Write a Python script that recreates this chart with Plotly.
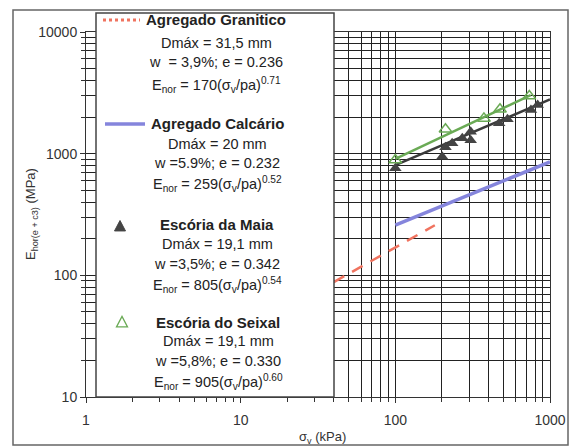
import plotly.graph_objects as go

# ---------------- data ----------------
gran_x = [40, 180]
gran_y = [88, 258]

calc_x = [100, 1000]
calc_y = [259, 857]

maia_fit_x = [100, 1000]
maia_fit_y = [805, 2791]
maia_x = [100, 201, 211, 233, 271, 307, 307, 469, 531, 753, 832]
maia_y = [759, 944, 1130, 1217, 1340, 1290, 1514, 1778, 1919, 2287, 2514]

seix_fit_x = [100, 750]
seix_fit_y = [905, 3032]
seix_x = [100, 211, 374, 475, 735]
seix_y = [887, 1585, 1950, 2317, 2977]

x_ticks = [1, 10, 100, 1000]
y_ticks = [10, 100, 1000, 10000]
x_minor = [m * 10 ** d for d in range(0, 3) for m in range(2, 10)]
y_minor = [m * 10 ** d for d in range(1, 4) for m in range(2, 10)]

x_title = "σ<sub>v</sub> (kPa)"
y_title = "E<sub>hor(e + c3)</sub> (MPa)"

legend_groups = [
    ["Agregado Granitico", "Dmáx = 31,5 mm", "w  = 3,9%; e = 0.236",
     "E<sub>nor</sub> = 170(σ<sub>v</sub>/pa)<sup>0.71</sup>"],
    ["Agregado Calcário", "Dmáx = 20 mm", "w =5.9%; e = 0.232",
     "E<sub>nor</sub> = 259(σ<sub>v</sub>/pa)<sup>0.52</sup>"],
    ["Escória da Maia", "Dmáx = 19,1 mm", "w =3,5%; e = 0.342",
     "E<sub>nor</sub> = 805(σ<sub>v</sub>/pa)<sup>0.54</sup>"],
    ["Escória do Seixal", "Dmáx = 19,1 mm", "w =5,8%; e = 0.330",
     "E<sub>nor</sub> = 905(σ<sub>v</sub>/pa)<sup>0.60</sup>"],
]

# ---------------- layout geometry ----------------
W, H = 577, 448
L, R, T, B = 86, 27, 32, 51
PW, PH = W - L - R, H - T - B


def px(x):
    return (x - L) / PW


def py(y):
    return (H - B - y) / PH


RED = "#f0735f"
BLUE = "#8585dc"
DARK = "#3a3a3a"
GREEN = "#6aaa55"
TXT = "#222222"
FONT = "Liberation Sans, Arial, sans-serif"

fig = go.Figure()
fig.add_trace(go.Scatter(x=gran_x, y=gran_y, mode="lines",
                         line=dict(color=RED, width=2.5, dash="12px,9px")))
fig.add_trace(go.Scatter(x=calc_x, y=calc_y, mode="lines",
                         line=dict(color=BLUE, width=3.5)))
fig.add_trace(go.Scatter(x=maia_fit_x, y=maia_fit_y, mode="lines",
                         line=dict(color=DARK, width=2.5)))
fig.add_trace(go.Scatter(x=maia_x, y=maia_y, mode="markers",
                         marker=dict(symbol="triangle-up", size=11, color="#444444")))
fig.add_trace(go.Scatter(x=seix_fit_x, y=seix_fit_y, mode="lines",
                         line=dict(color=GREEN, width=2.5)))
fig.add_trace(go.Scatter(x=seix_x, y=seix_y, mode="markers",
                         marker=dict(symbol="triangle-up-open", size=11, color=GREEN,
                                     line=dict(width=1.5))))

axis_common = dict(
    type="log", showline=True, linecolor="#333", linewidth=1, mirror=True,
    ticks="outside", ticklen=5, tickcolor="#333", automargin=False,
    showgrid=True, gridcolor="#222222", gridwidth=1.2, zeroline=False,
    tickfont=dict(family=FONT, size=14, color="#333"),
)

fig.update_xaxes(
    **axis_common, range=[0, 3], ticklabelstandoff=5,
    tickvals=x_ticks, ticktext=[str(v) for v in x_ticks],
    minor=dict(tickvals=x_minor, ticks="outside", ticklen=4, tickcolor="#333",
               showgrid=True, gridcolor="#222222", gridwidth=1.2),
)
fig.update_yaxes(
    **axis_common, range=[1, 4],
    tickvals=y_ticks, ticktext=[str(v) for v in y_ticks],
    minor=dict(tickvals=y_minor, ticks="outside", ticklen=4, tickcolor="#333",
               showgrid=True, gridcolor="#222222", gridwidth=1.2),
)

shapes = []
# outer frame
shapes.append(dict(type="rect", xref="paper", yref="paper", layer="above",
                   x0=px(13), x1=px(568), y0=py(445), y1=py(10),
                   line=dict(color="#666", width=1.5)))
# legend box
shapes.append(dict(type="rect", xref="paper", yref="paper", layer="above",
                   x0=px(96), x1=px(334), y0=py(397), y1=py(13),
                   line=dict(color="#444", width=1.5), fillcolor="white"))
# legend symbols
shapes.append(dict(type="line", xref="paper", yref="paper", layer="above",
                   x0=px(103), x1=px(140), y0=py(20), y1=py(20),
                   line=dict(color=RED, width=3, dash="dot")))
shapes.append(dict(type="line", xref="paper", yref="paper", layer="above",
                   x0=px(105), x1=px(145), y0=py(124), y1=py(124),
                   line=dict(color=BLUE, width=3.5)))


def tri_path(cx, cy, s):
    return (f"M {px(cx - s)} {py(cy + s * 0.9)} L {px(cx + s)} {py(cy + s * 0.9)} "
            f"L {px(cx)} {py(cy - s * 1.0)} Z")


shapes.append(dict(type="path", xref="paper", yref="paper", layer="above",
                   path=tri_path(120, 226, 5.5), fillcolor="#444444",
                   line=dict(color="#444444", width=1)))
shapes.append(dict(type="path", xref="paper", yref="paper", layer="above",
                   path=tri_path(122, 322, 5.5), fillcolor="white",
                   line=dict(color=GREEN, width=1.3)))

annotations = []
group_rows = [[20, 43, 62, 85], [124, 144, 163, 184], [225, 244, 264, 285], [322, 341, 361, 382]]
group_cx = [216, 217, 217, 218]
for g, rows, cx in zip(legend_groups, group_rows, group_cx):
    for i, (txt, yy) in enumerate(zip(g, rows)):
        annotations.append(dict(
            xref="paper", yref="paper", x=px(cx), y=py(yy),
            xanchor="center", yanchor="middle", showarrow=False,
            text=f"<b>{txt}</b>" if i == 0 else txt,
            font=dict(family=FONT, size=15 if i == 0 else 14.5, color=TXT),
        ))

# axis titles
annotations.append(dict(xref="paper", yref="paper", x=px(322), y=py(437),
                        xanchor="center", yanchor="middle", showarrow=False,
                        text=x_title, font=dict(family=FONT, size=13, color="#333")))
annotations.append(dict(xref="paper", yref="paper", x=px(32), y=py(214),
                        xanchor="center", yanchor="middle", showarrow=False, textangle=-90,
                        text=y_title, font=dict(family=FONT, size=13, color="#333")))

fig.update_layout(
    width=W, height=H,
    margin=dict(l=L, r=R, t=T, b=B),
    paper_bgcolor="white", plot_bgcolor="white",
    showlegend=False,
    shapes=shapes, annotations=annotations,
    font=dict(family=FONT, color="#333"),
)

fig.write_html("out.html", config={"displayModeBar": False},
               post_script="document.body.style.margin='0';document.body.style.padding='0';")
